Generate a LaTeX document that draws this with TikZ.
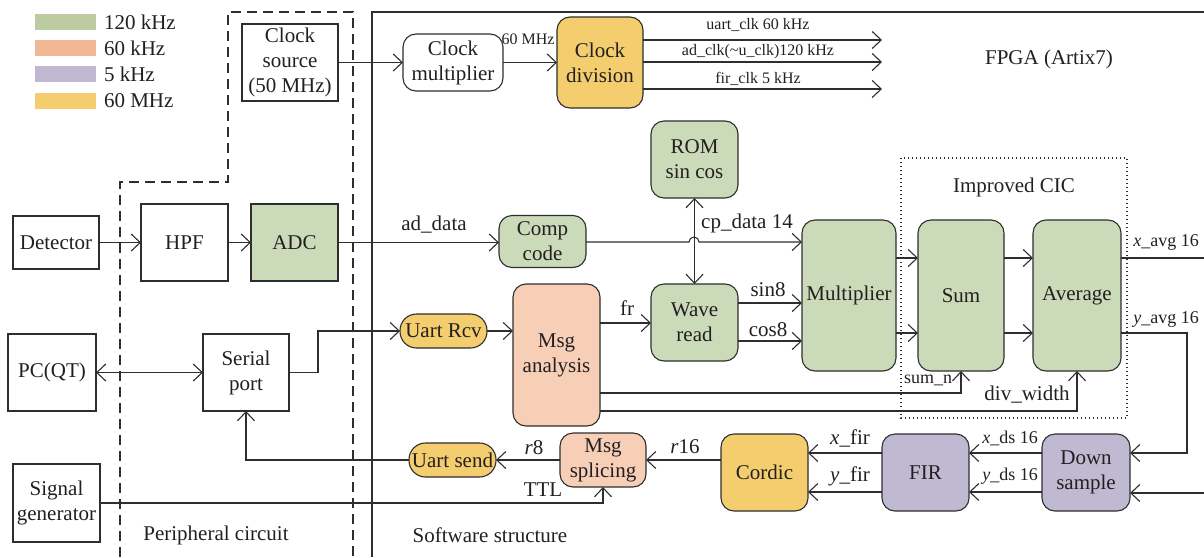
\documentclass[tikz,border=0pt]{standalone}
\usepackage{fontspec}
\setmainfont{Liberation Serif}
\usetikzlibrary{arrows.meta}
\definecolor{linec}{HTML}{2E2E2E}
\definecolor{txtc}{HTML}{231F20}
\definecolor{gfill}{HTML}{CBDAB9}
\definecolor{sfill}{HTML}{F7CFB7}
\definecolor{pfill}{HTML}{C0B9D2}
\definecolor{yfill}{HTML}{F3CD6E}
\definecolor{gleg}{HTML}{BCCBA0}
\definecolor{sleg}{HTML}{F2B895}
\definecolor{pleg}{HTML}{C0B7D0}
\definecolor{yleg}{HTML}{F3CD70}
\begin{document}
\begin{tikzpicture}[x=1pt,y=-1pt,
  every node/.style={text=txtc, font=\fontsize{21}{25}\selectfont, inner sep=0pt, outer sep=0pt},
  plain/.style={draw=linec, line width=1.1pt, rectangle, align=center, fill=white},
  rbox/.style={draw=linec, line width=1.1pt, rectangle, rounded corners=13pt, align=center},
  pill/.style={rbox, rounded corners=16.5pt},
  sz/.style n args={2}{minimum width=#1pt, minimum height=#2pt},
  arr/.style={draw=linec, line width=1.1pt, -{Straight Barb[length=9pt,width=17pt]}},
  arrb/.style={draw=linec, line width=1.1pt, {Straight Barb[length=9pt,width=17pt]}-{Straight Barb[length=9pt,width=17pt]}},
  wire/.style={draw=linec, line width=1.1pt},
  slbl/.style={font=\fontsize{16}{19}\selectfont},
  mlbl/.style={font=\fontsize{18}{21}\selectfont},
  legsw/.style={minimum width=61pt, minimum height=16pt},
]
\useasboundingbox (0,0) rectangle (1204,557);

% legend
\node[legsw, fill=gleg] (lg1) at (65.5,22) {};
\node[legsw, fill=sleg] (lg2) at (65.5,48) {};
\node[legsw, fill=pleg] (lg3) at (65.5,74) {};
\node[legsw, fill=yleg] (lg4) at (65.5,101) {};
\node[anchor=west] (lg1t) at (104,22) {120 kHz};
\node[anchor=west] (lg2t) at (104,48) {60 kHz};
\node[anchor=west] (lg3t) at (104,74) {5 kHz};
\node[anchor=west] (lg4t) at (104,101) {60 MHz};

% frames
\draw[wire, dash pattern=on 10pt off 6pt] (120,557) -- (120,182) -- (228,182) -- (228,12) -- (353,12) -- (353,557);
\draw[wire] (372,557) -- (372,12) -- (1204,12);
\draw[line width=1.1pt, draw=linec, dash pattern=on 1.2pt off 2.8pt] (901,158) rectangle (1127,418);

\node (fpga) at (1049,59) {FPGA (Artix7)};
\node (cic) at (1014,187) {Improved CIC};
\node (peri) at (216,535) {Peripheral circuit};
\node (soft) at (490,535) {Software structure};

% peripheral blocks
\node[plain, sz={96}{77}] (clksrc) at (290,62.5) {Clock\\source\\(50 MHz)};
\node[plain, sz={86}{53}] (det) at (56,242.5) {Detector};
\node[plain, sz={87}{77}] (hpf) at (184.5,242.5) {HPF};
\node[plain, sz={87}{77}, fill=gfill] (adc) at (294.5,242.5) {ADC};
\node[plain, sz={88}{77}] (pc) at (52,372.5) {PC(QT)};
\node[plain, sz={86}{77}] (serial) at (246,372.5) {Serial\\port};
\node[plain, sz={87}{78}] (sig) at (56.5,503) {Signal\\generator};

% FPGA blocks
\node[rbox, sz={100}{57}, fill=white] (clkmul) at (453,62.5) {Clock\\multiplier};
\node[rbox, sz={86}{91}, fill=yfill] (clkdiv) at (600,62.5) {Clock\\division};
\node[rbox, sz={87}{52}, fill=gfill] (comp) at (542.5,241.5) {Comp\\code};
\node[rbox, sz={87}{77}, fill=gfill] (rom) at (694.5,159.5) {ROM\\sin cos};
\node[rbox, sz={87}{77}, fill=gfill] (wave) at (694.5,322.5) {Wave\\read};
\node[rbox, sz={87}{142}, fill=sfill] (msga) at (556.5,355) {Msg\\analysis};
\node[pill, sz={87}{34}, fill=yfill] (rcv) at (443.5,331) {Uart Rcv};
\node[rbox, sz={94}{151}, fill=gfill] (mult) at (849,295.5) {Multiplier};
\node[rbox, sz={86}{151}, fill=gfill] (sum) at (961,295.5) {Sum};
\node[rbox, sz={88}{151}, fill=gfill] (avg) at (1077,295.5) {Average};
\node[pill, sz={87}{34}, fill=yfill] (usend) at (452.5,460) {Uart send};
\node[rbox, sz={86}{54}, fill=sfill] (msgs) at (603,460) {Msg\\splicing};
\node[rbox, sz={87}{77}, fill=yfill] (cordic) at (764.5,472.5) {Cordic};
\node[rbox, sz={87}{77}, fill=pfill] (fir) at (925.5,472.5) {FIR};
\node[rbox, sz={88}{77}, fill=pfill] (down) at (1086,472.5) {Down\\sample};

% free ends
\coordinate (o1) at (882,40);
\coordinate (o2) at (882,62);
\coordinate (o3) at (882,89);
\coordinate (xout) at (1204,258);
\coordinate (yin) at (1204,493);

% clock path
\draw[arr] (clksrc.east) -- (clkmul.west);
\draw[arr] (clkmul.east) -- (clkdiv.west);
\node[slbl] (l60) at (528,39) {60 MHz};
\draw[arr] (clkdiv.east |- o1) -- (o1);
\draw[arr] (clkdiv.east |- o2) -- (o2);
\draw[arr] (clkdiv.east |- o3) -- (o3);
\node[slbl] (lo1) at (758,25) {uart\_clk 60 kHz};
\node[slbl] (lo2) at (758,52) {ad\_clk(\textasciitilde u\_clk)120 kHz};
\node[slbl] (lo3) at (758,79) {fir\_clk 5 kHz};

% signal path
\draw[arr] (det.east) -- (hpf.west);
\draw[arr] (hpf.east) -- (adc.west);
\draw[arr] (adc.east) -- (comp.west |- adc.east);
\node (lad) at (434,225) {ad\_data};
\draw[arr] (comp.east |- 0,242) -- (689,242) arc[start angle=180, end angle=360, radius=5] -- (mult.west |- 0,242);
\node (lcp) at (747,223) {cp\_data 14};
\draw[arrb] (rom.south) -- (wave.north);
\draw[arr] (msga.east |- 0,323) -- (wave.west |- 0,323);
\node (lfr) at (627,308) {fr};
\draw[arr] (wave.east |- 0,303) -- (mult.west |- 0,303);
\draw[arr] (wave.east |- 0,341) -- (mult.west |- 0,341);
\node (lsin) at (768,290) {sin8};
\node (lcos) at (768,330) {cos8};
\draw[arr] (mult.east |- 0,258) -- (sum.west |- 0,258);
\draw[arr] (mult.east |- 0,333) -- (sum.west |- 0,333);
\draw[arr] (sum.east |- 0,258) -- (avg.west |- 0,258);
\draw[arr] (sum.east |- 0,333) -- (avg.west |- 0,333);
\draw[arr] (msga.east |- 0,393) -| (sum.south);
\draw[arr] (msga.east |- 0,411) -| (avg.south);
\node[mlbl] (lsumn) at (928,380) {sum\_n};
\node (ldiv) at (1027,395) {div\_width};
\draw[wire] (avg.east |- xout) -- (xout);
\node[mlbl] (lxavg) at (1166,242) {\textit{x}\_avg 16};
\draw[arr] (avg.east |- 0,333) -- (1187,333) |- (down.east |- 0,453);
\node[mlbl] (lyavg) at (1166,319) {\textit{y}\_avg 16};
\draw[arr] (yin) -- (down.east |- yin);

% output path
\draw[arr] (down.west |- 0,453) -- (fir.east |- 0,453);
\draw[arr] (down.west |- 0,492) -- (fir.east |- 0,492);
\node[mlbl] (lxds) at (1010,438) {\textit{x}\_ds 16};
\node[mlbl] (lyds) at (1010,476) {\textit{y}\_ds 16};
\draw[arr] (fir.west |- 0,453) -- (cordic.east |- 0,453);
\draw[arr] (fir.west |- 0,492) -- (cordic.east |- 0,492);
\node (lxfir) at (850,438) {\textit{x}\_fir};
\node (lyfir) at (850,476) {\textit{y}\_fir};
\draw[arr] (cordic.west |- msgs.east) -- (msgs.east);
\node (lr16) at (685,447) {\textit{r}16};
\draw[arr] (msgs.west) -- (usend.east);
\node (lr8) at (534,448) {\textit{r}8};
\draw[arr] (usend.west) -| (serial.south);
\draw[arr] (sig.east) -| (msgs.south);
\node (lttl) at (543,490) {TTL};

% host link
\draw[arrb] (pc.east) -- (serial.west);
\draw[arr] (serial.east) -- ++(29,0) |- (rcv.west);
\draw[arr] (rcv.east) -- (msga.west |- rcv.east);
\end{tikzpicture}
\end{document}
